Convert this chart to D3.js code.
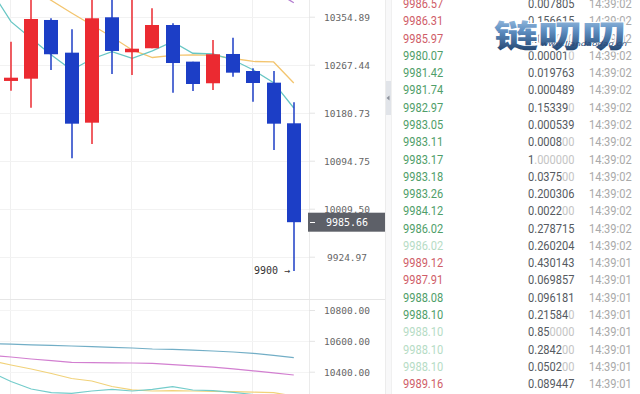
<!DOCTYPE html>
<html><head><meta charset="utf-8">
<script src="https://cdn.jsdelivr.net/npm/d3@7"></script>
<style>html,body{margin:0;padding:0;background:#fff;overflow:hidden}svg{display:block}</style>
</head><body>
<svg id="c" width="640" height="394"></svg>
<script>
// ---------- DATA ----------
const candleIndex = [0,1,2,3,4,5,6,7,8,9,10,11,12,13,14];
const opens  = [10238.0,10242.1,10348.9,10289.3,10162.8,10353.8,10290.0,10297.3,10339.7,10273.0,10233.8,10286.9,10256.0,10234.9,10161.7];
const highs  = [10309.3,10398.0,10352.0,10331.9,10402.0,10392.0,10395.0,10370.3,10342.8,10273.0,10312.4,10316.6,10260.9,10256.0,10199.5];
const lows   = [10220.4,10189.7,10257.8,10099.0,10124.6,10250.6,10248.8,10297.3,10216.8,10219.8,10221.6,10245.7,10200.5,10113.9,9900.0];
const closes = [10243.9,10350.7,10286.4,10161.0,10352.0,10292.4,10296.5,10339.7,10270.5,10232.5,10286.4,10253.0,10234.3,10161.0,9985.66];
const lastPrice = 9985.66;
const lowMark = 9900;

// moving averages, index -1 .. 14
const maTeal   = [10403.9,10345.8,10315.1,10285.1,10257.8,10277.8,10291.1,10279.1,10292.4,10309.3,10288.2,10286.9,10276.0,10257.8,10234.9,10189.2];
const maYellow = [null,null,10407.5,10384.6,10361.7,10339.7,10317.8,10294.2,10280.5,10284.2,10285.1,10284.2,10278.7,10273.3,10272.4,10234.3];
const maPurple = [null,null,null,null,null,null,null,null,null,null,null,null,null,null,10402.4,10380.5];

const subBlue   = [10582.2,10578.3,10574.4,10571.1,10566.6,10562.1,10558.2,10553.6,10547.2,10545.2,10539.4,10534.2,10527.7,10519.3,10506.3,10490.8];
const subPink   = [10506.3,10495.3,10482.3,10472.0,10460.9,10459.0,10457.7,10456.4,10453.8,10446.0,10437.6,10429.2,10418.1,10405.8,10392.2,10378.6];
const subYellow = [10471.3,10443.4,10417.5,10388.3,10355.9,10339.7,10304.1,10282.0,10274.9,10276.8,10274.9,10272.9,10270.3,10267.1,10263.9,10242.5];
const subCyan   = [10398.1,10336.5,10287.8,10263.9,10260.0,10274.9,10285.9,10274.9,10285.9,10302.8,10281.4,10276.8,10266.4,10252.2,10229.5,10190.6];

const priceTicks = [10354.89,10267.44,10180.73,10094.75,10009.50,9924.97];
const subTicks = [10800,10600,10400];
const gridCandles = [0,6,12];

const tradePrices = ["9986.57","9986.31","9985.97","9980.07","9981.42","9981.74","9982.97","9983.05","9983.11","9983.17","9983.18","9983.26","9984.12","9986.02","9986.02","9989.12","9987.91","9988.08","9988.10","9988.10","9988.10","9988.10","9989.16"];
const tradeSizes  = ["0.007805","0.156615","0.050000","0.000010","0.019763","0.000489","0.153390","0.000539","0.000800","1.000000","0.037500","0.200306","0.002200","0.278715","0.260204","0.430143","0.069857","0.096181","0.215840","0.850000","0.284200","0.050200","0.089447"];
const tradeTimes  = ["14:39:02","14:39:02","14:39:02","14:39:02","14:39:02","14:39:02","14:39:02","14:39:02","14:39:02","14:39:02","14:39:02","14:39:02","14:39:02","14:39:02","14:39:02","14:39:01","14:39:01","14:39:01","14:39:01","14:39:01","14:39:01","14:39:01","14:39:01"];
const tradeSides  = ["s","s","s","b","b","b","b","b","b","b","b","b","b","b","b","s","s","b","b","b","b","b","s"];
const tradeFaded  = [0,0,0,0,0,0,0,0,0,0,0,0,0,0,1,0,0,0,0,1,1,1,0];

const watermark = "链叨叨";
const watermarkSub = "www.liandaodao.cn";

// ---------- DRAW ----------
const svg = d3.select("#c");
const plotR = 309, mainB = 299;
const x = d3.scaleLinear().domain([0,14]).range([11,293.8]);
const y = d3.scaleLog().domain([9924.97,10354.89]).range([256.7,16.7]);
const ySub = d3.scaleLinear().domain([10400,10800]).range([371.7,310]);
const RED = "#eb2a31", BLUE = "#1c3ec6";

const defs = svg.append("defs");
defs.append("clipPath").attr("id","cm").append("rect").attr("x",0).attr("y",0).attr("width",plotR).attr("height",mainB);
defs.append("clipPath").attr("id","cs").append("rect").attr("x",0).attr("y",mainB).attr("width",plotR).attr("height",394-mainB);
const grad = defs.append("linearGradient").attr("id","wg").attr("x1",0).attr("y1",0).attr("x2",0).attr("y2",1);
grad.append("stop").attr("offset","0%").attr("stop-color","#b9d6ef");
grad.append("stop").attr("offset","45%").attr("stop-color","#5f8fc2");
grad.append("stop").attr("offset","100%").attr("stop-color","#17365f");

// grids
const grid = svg.append("g");
gridCandles.forEach(i=>{
  grid.append("line").attr("x1",Math.round(x(i))-0.5).attr("x2",Math.round(x(i))-0.5)
    .attr("y1",0).attr("y2",394).attr("stroke","#f0f0f0");
});
priceTicks.forEach(t=>{
  grid.append("line").attr("x1",0).attr("x2",plotR).attr("y1",Math.round(y(t))+0.5).attr("y2",Math.round(y(t))+0.5).attr("stroke","#f2f2f2");
});
subTicks.forEach(t=>{
  grid.append("line").attr("x1",0).attr("x2",plotR).attr("y1",Math.round(ySub(t))+0.5).attr("y2",Math.round(ySub(t))+0.5).attr("stroke","#f4f4f4");
});

// main MA lines
const main = svg.append("g").attr("clip-path","url(#cm)");
const maLine = d3.line().defined(d=>d!=null).x((d,k)=>x(k-1)).y(d=>y(d));
[[maYellow,"#f3c56f"],[maTeal,"#68c6c4"],[maPurple,"#b37bd0"]].forEach(([arr,col])=>{
  main.append("path").attr("d",maLine(arr)).attr("fill","none").attr("stroke",col).attr("stroke-width",1.3);
});

// candles
candleIndex.forEach(i=>{
  const o=opens[i], c=closes[i], up=c>=o, col=up?RED:BLUE;
  const cx = Math.round(x(i));
  main.append("line").attr("x1",cx).attr("x2",cx).attr("y1",y(highs[i])).attr("y2",y(lows[i]))
    .attr("stroke",col).attr("stroke-width",1.5);
  const top=y(Math.max(o,c)), bot=y(Math.min(o,c));
  main.append("rect").attr("x",cx-7).attr("y",top).attr("width",14).attr("height",Math.max(1.5,bot-top)).attr("fill",col);
});
// low annotation
main.append("text").attr("x",Math.round(x(14))-4).attr("y",y(lowMark)+3.5).attr("text-anchor","end")
  .attr("font-family","DejaVu Sans Mono").attr("font-size",10).attr("fill","#333").text(lowMark+" →");

// sub lines
const sub = svg.append("g").attr("clip-path","url(#cs)");
const subLine = d3.line().x((d,k)=>x(k-1)).y(d=>ySub(d));
[[subBlue,"#72aec6"],[subPink,"#d27fd0"],[subYellow,"#f1d27a"],[subCyan,"#74cccb"]].forEach(([arr,col])=>{
  sub.append("path").attr("d",subLine(arr)).attr("fill","none").attr("stroke",col).attr("stroke-width",1.2);
});

// separators
svg.append("line").attr("x1",plotR+0.5).attr("x2",plotR+0.5).attr("y1",0).attr("y2",394).attr("stroke","#ebebeb");
svg.append("line").attr("x1",0).attr("x2",385).attr("y1",mainB+0.5).attr("y2",mainB+0.5).attr("stroke","#e6e6e6");

// axes
const fmt = d3.format(".2f");
const axMain = svg.append("g").attr("transform",`translate(${plotR},0)`)
  .call(d3.axisRight(y).tickValues(priceTicks).tickFormat(fmt).tickSize(6));
const axSub = svg.append("g").attr("transform",`translate(${plotR},0)`)
  .call(d3.axisRight(ySub).tickValues(subTicks).tickFormat(fmt).tickSize(6));
[axMain,axSub].forEach(a=>{
  a.select(".domain").remove();
  a.selectAll(".tick line").attr("stroke","#e4e4e4");
  a.selectAll(".tick text").attr("x",38).attr("text-anchor","middle").attr("dy","0.35em")
    .attr("font-family","DejaVu Sans Mono").attr("font-size",9.5).attr("fill","#666");
});

// current price box
const py = y(lastPrice);
svg.append("rect").attr("x",308).attr("y",py-9.5).attr("width",77).attr("height",19).attr("fill","#5d6068");
svg.append("line").attr("x1",310).attr("x2",315).attr("y1",Math.round(py)+0.5).attr("y2",Math.round(py)+0.5).attr("stroke","#fff");
svg.append("text").attr("x",347).attr("y",py).attr("dy","0.35em").attr("text-anchor","middle")
  .attr("font-family","DejaVu Sans Mono").attr("font-size",10).attr("fill","#fff").text(fmt(lastPrice));

// scroll strip
svg.append("rect").attr("x",385).attr("y",0).attr("width",7).attr("height",394).attr("fill","#f8f8f9");
svg.append("line").attr("x1",385.5).attr("x2",385.5).attr("y1",0).attr("y2",394).attr("stroke","#ececec");
svg.append("line").attr("x1",391.5).attr("x2",391.5).attr("y1",0).attr("y2",394).attr("stroke","#f0f0f0");
svg.append("rect").attr("x",386).attr("y",81).attr("width",5).attr("height",34).attr("fill","#e1e4e9");
svg.append("path").attr("d","M386.5,98 L389.5,95.5 L389.5,100.5 Z").attr("fill","#8d929c");

// trades list
const rowY = i => 3.3 + 17.27*i;
const tl = svg.append("g").attr("font-family","Roboto").attr("font-size",13.5);
tradePrices.forEach((p,i)=>{
  const base = rowY(i)+4.8;
  const pc = tradeSides[i]==="s" ? (tradeFaded[i]?"#efc0c5":"#cf5d68") : (tradeFaded[i]?"#b6dcc5":"#4f9e69");
  tl.append("text").attr("transform",`translate(403,${base}) scale(0.82,1)`).attr("fill",pc).text(p);
  const s = tradeSizes[i];
  let dark = s.replace(/0+$/,"");
  if (dark.endsWith(".")) dark = dark.slice(0,-1);
  const light = s.slice(dark.length);
  const st = tl.append("text").attr("transform",`translate(528,${base}) scale(0.82,1)`);
  st.append("tspan").attr("fill","#555a61").text(dark);
  st.append("tspan").attr("fill","#c4c4c4").text(light);
  tl.append("text").attr("transform",`translate(589,${base}) scale(0.82,1)`).attr("fill","#a9a9a9").text(tradeTimes[i]);
});

// watermark
const wm = svg.append("g").attr("transform","translate(494,46.5) scale(1.42,1)");
wm.append("text").attr("x",0).attr("y",0).attr("font-family","Noto Sans CJK SC").attr("font-weight",900)
  .attr("font-size",31).attr("fill","url(#wg)").attr("stroke","#ffffff").attr("stroke-width",2.2)
  .attr("paint-order","stroke").attr("letter-spacing",0).text(watermark);
svg.append("text").attr("x",541).attr("y",46).attr("font-family","DejaVu Sans").attr("font-size",6.5)
  .attr("font-style","italic").attr("fill","#2a4a78").attr("textLength",86).attr("lengthAdjust","spacingAndGlyphs").text(watermarkSub);
</script>
</body></html>
